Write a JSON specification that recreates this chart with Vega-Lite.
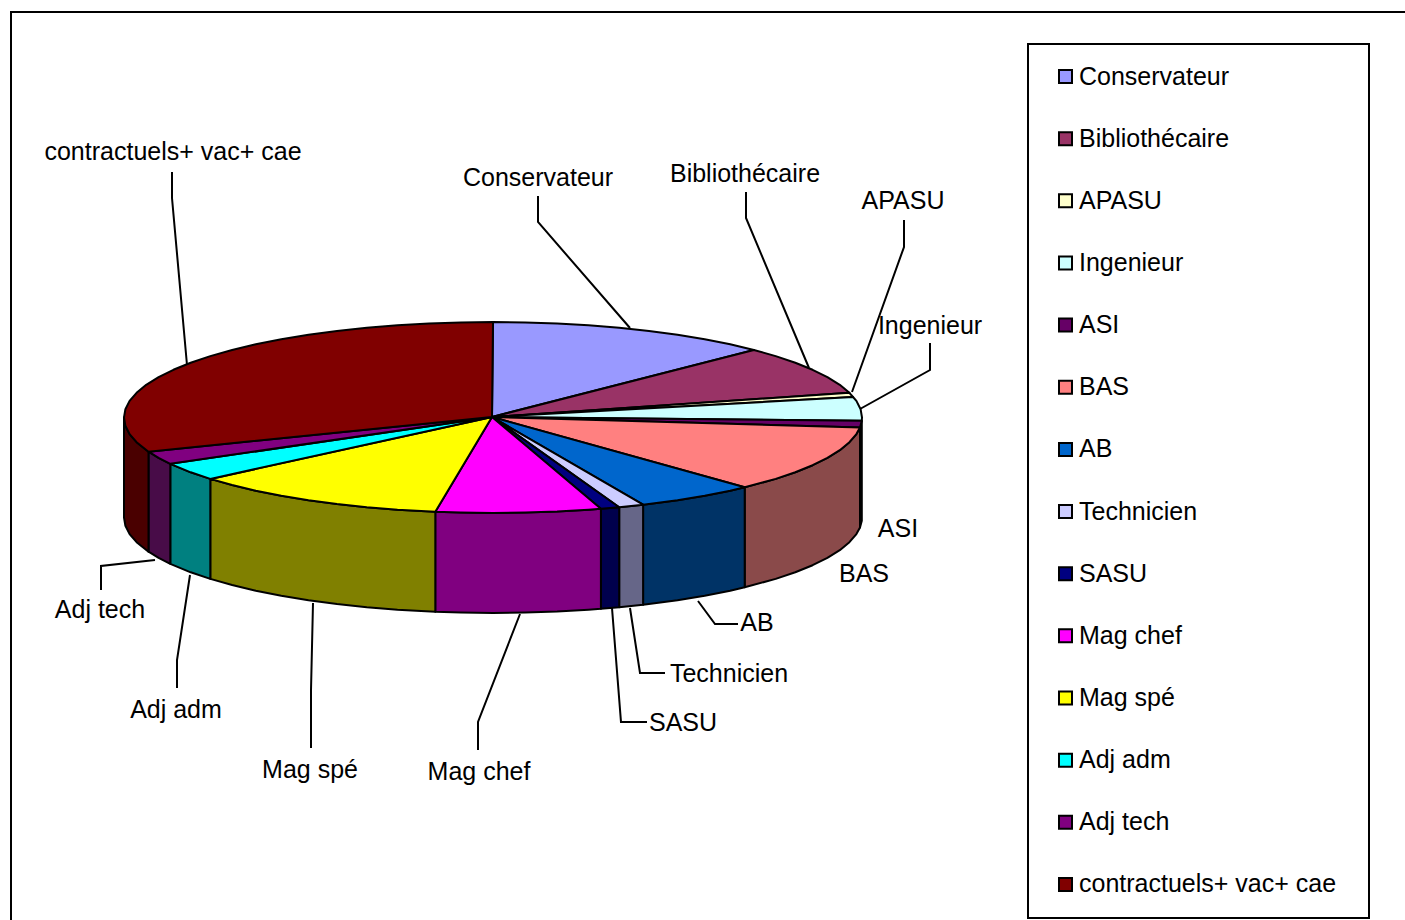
{"$schema":"https://vega.github.io/schema/vega-lite/v6.json","width":1405,"height":920,"padding":0,"autosize":{"type":"none"},"background":"white","config":{"view":{"stroke":null},"font":"Liberation Sans"},
"datasets":{
"frame":[{"x":1028,"x2":1369,"y":44,"y2":918}],
"leaders":[
{"name":"frame","seq":0,"x":11,"y":920},{"name":"frame","seq":1,"x":11,"y":12},{"name":"frame","seq":2,"x":1405,"y":12},
{"name":"contractuels+ vac+ cae","seq":0,"x":172,"y":172},{"name":"contractuels+ vac+ cae","seq":1,"x":172,"y":198},{"name":"contractuels+ vac+ cae","seq":2,"x":187,"y":365},
{"name":"Conservateur","seq":0,"x":538,"y":196},{"name":"Conservateur","seq":1,"x":538,"y":222},{"name":"Conservateur","seq":2,"x":630,"y":328},
{"name":"Bibliothécaire","seq":0,"x":746,"y":192},{"name":"Bibliothécaire","seq":1,"x":746,"y":218},{"name":"Bibliothécaire","seq":2,"x":809,"y":368},
{"name":"APASU","seq":0,"x":904,"y":220},{"name":"APASU","seq":1,"x":904,"y":247},{"name":"APASU","seq":2,"x":852,"y":392},
{"name":"Ingenieur","seq":0,"x":930,"y":343},{"name":"Ingenieur","seq":1,"x":930,"y":370},{"name":"Ingenieur","seq":2,"x":860,"y":409},
{"name":"AB","seq":0,"x":698,"y":601},{"name":"AB","seq":1,"x":715,"y":624},{"name":"AB","seq":2,"x":738,"y":624},
{"name":"Technicien","seq":0,"x":630,"y":608},{"name":"Technicien","seq":1,"x":640,"y":673},{"name":"Technicien","seq":2,"x":665,"y":673},
{"name":"SASU","seq":0,"x":612,"y":608},{"name":"SASU","seq":1,"x":621,"y":722},{"name":"SASU","seq":2,"x":647,"y":722},
{"name":"Mag chef","seq":0,"x":520,"y":614},{"name":"Mag chef","seq":1,"x":478,"y":722},{"name":"Mag chef","seq":2,"x":478,"y":750},
{"name":"Mag spé","seq":0,"x":313,"y":603},{"name":"Mag spé","seq":1,"x":311,"y":690},{"name":"Mag spé","seq":2,"x":311,"y":748},
{"name":"Adj adm","seq":0,"x":190,"y":575},{"name":"Adj adm","seq":1,"x":177,"y":660},{"name":"Adj adm","seq":2,"x":177,"y":688},
{"name":"Adj tech","seq":0,"x":155,"y":560},{"name":"Adj tech","seq":1,"x":101,"y":566},{"name":"Adj tech","seq":2,"x":101,"y":590}
],
"walls":[
{"slice":"ASI","seq":0,"x":861.8,"y":420.8},{"slice":"ASI","seq":1,"x":860,"y":427.5},{"slice":"ASI","seq":2,"x":860,"y":527.5},{"slice":"ASI","seq":3,"x":861.8,"y":520.8},{"slice":"ASI","seq":4,"x":861.8,"y":420.8},
{"slice":"BAS","seq":0,"x":860,"y":427.5},{"slice":"BAS","seq":1,"x":856.4,"y":434.1},{"slice":"BAS","seq":2,"x":849.4,"y":442.2},{"slice":"BAS","seq":3,"x":839.8,"y":450.2},{"slice":"BAS","seq":4,"x":827.4,"y":457.9},{"slice":"BAS","seq":5,"x":812.6,"y":465.2},{"slice":"BAS","seq":6,"x":795.3,"y":472.3},{"slice":"BAS","seq":7,"x":775.7,"y":478.9},{"slice":"BAS","seq":8,"x":744.7,"y":487.3},{"slice":"BAS","seq":9,"x":744.7,"y":587.3},{"slice":"BAS","seq":10,"x":775.7,"y":578.9},{"slice":"BAS","seq":11,"x":795.3,"y":572.3},{"slice":"BAS","seq":12,"x":812.6,"y":565.2},{"slice":"BAS","seq":13,"x":827.4,"y":557.9},{"slice":"BAS","seq":14,"x":839.8,"y":550.2},{"slice":"BAS","seq":15,"x":849.4,"y":542.2},{"slice":"BAS","seq":16,"x":856.4,"y":534.1},{"slice":"BAS","seq":17,"x":860,"y":527.5},{"slice":"BAS","seq":18,"x":860,"y":427.5},
{"slice":"AB","seq":0,"x":744.7,"y":487.3},{"slice":"AB","seq":1,"x":730.2,"y":490.7},{"slice":"AB","seq":2,"x":704.7,"y":495.7},{"slice":"AB","seq":3,"x":677.5,"y":500.2},{"slice":"AB","seq":4,"x":643.1,"y":504.7},{"slice":"AB","seq":5,"x":643.1,"y":604.7},{"slice":"AB","seq":6,"x":677.5,"y":600.2},{"slice":"AB","seq":7,"x":704.7,"y":595.7},{"slice":"AB","seq":8,"x":730.2,"y":590.7},{"slice":"AB","seq":9,"x":744.7,"y":587.3},{"slice":"AB","seq":10,"x":744.7,"y":487.3},
{"slice":"Technicien","seq":0,"x":643.1,"y":504.7},{"slice":"Technicien","seq":1,"x":619.2,"y":507.2},{"slice":"Technicien","seq":2,"x":619.2,"y":607.2},{"slice":"Technicien","seq":3,"x":643.1,"y":604.7},{"slice":"Technicien","seq":4,"x":643.1,"y":504.7},
{"slice":"SASU","seq":0,"x":619.2,"y":507.2},{"slice":"SASU","seq":1,"x":600.9,"y":508.8},{"slice":"SASU","seq":2,"x":600.9,"y":608.8},{"slice":"SASU","seq":3,"x":619.2,"y":607.2},{"slice":"SASU","seq":4,"x":619.2,"y":507.2},
{"slice":"Mag chef","seq":0,"x":600.9,"y":508.8},{"slice":"Mag chef","seq":1,"x":588.5,"y":509.7},{"slice":"Mag chef","seq":2,"x":557.1,"y":511.5},{"slice":"Mag chef","seq":3,"x":525.2,"y":512.6},{"slice":"Mag chef","seq":4,"x":493,"y":513},{"slice":"Mag chef","seq":5,"x":460.8,"y":512.6},{"slice":"Mag chef","seq":6,"x":435.3,"y":511.8},{"slice":"Mag chef","seq":7,"x":435.3,"y":611.8},{"slice":"Mag chef","seq":8,"x":460.8,"y":612.6},{"slice":"Mag chef","seq":9,"x":493,"y":613},{"slice":"Mag chef","seq":10,"x":525.2,"y":612.6},{"slice":"Mag chef","seq":11,"x":557.1,"y":611.5},{"slice":"Mag chef","seq":12,"x":588.5,"y":609.7},{"slice":"Mag chef","seq":13,"x":600.9,"y":608.8},{"slice":"Mag chef","seq":14,"x":600.9,"y":508.8},
{"slice":"Mag spé","seq":0,"x":435.3,"y":511.8},{"slice":"Mag spé","seq":1,"x":397.5,"y":509.7},{"slice":"Mag spé","seq":2,"x":366.8,"y":507.2},{"slice":"Mag spé","seq":3,"x":337,"y":504.1},{"slice":"Mag spé","seq":4,"x":308.5,"y":500.2},{"slice":"Mag spé","seq":5,"x":281.3,"y":495.7},{"slice":"Mag spé","seq":6,"x":255.8,"y":490.7},{"slice":"Mag spé","seq":7,"x":232.1,"y":485},{"slice":"Mag spé","seq":8,"x":210.3,"y":478.9},{"slice":"Mag spé","seq":9,"x":210.3,"y":578.9},{"slice":"Mag spé","seq":10,"x":232.1,"y":585},{"slice":"Mag spé","seq":11,"x":255.8,"y":590.7},{"slice":"Mag spé","seq":12,"x":281.3,"y":595.7},{"slice":"Mag spé","seq":13,"x":308.5,"y":600.2},{"slice":"Mag spé","seq":14,"x":337,"y":604.1},{"slice":"Mag spé","seq":15,"x":366.8,"y":607.2},{"slice":"Mag spé","seq":16,"x":397.5,"y":609.7},{"slice":"Mag spé","seq":17,"x":435.3,"y":611.8},{"slice":"Mag spé","seq":18,"x":435.3,"y":511.8},
{"slice":"Adj adm","seq":0,"x":210.3,"y":478.9},{"slice":"Adj adm","seq":1,"x":190.7,"y":472.3},{"slice":"Adj adm","seq":2,"x":170.3,"y":463.8},{"slice":"Adj adm","seq":3,"x":170.3,"y":563.8},{"slice":"Adj adm","seq":4,"x":190.7,"y":572.3},{"slice":"Adj adm","seq":5,"x":210.3,"y":578.9},{"slice":"Adj adm","seq":6,"x":210.3,"y":478.9},
{"slice":"Adj tech","seq":0,"x":170.3,"y":463.8},{"slice":"Adj tech","seq":1,"x":158.6,"y":457.9},{"slice":"Adj tech","seq":2,"x":148.5,"y":451.7},{"slice":"Adj tech","seq":3,"x":148.5,"y":551.7},{"slice":"Adj tech","seq":4,"x":158.6,"y":557.9},{"slice":"Adj tech","seq":5,"x":170.3,"y":563.8},{"slice":"Adj tech","seq":6,"x":170.3,"y":463.8},
{"slice":"contractuels+ vac+ cae","seq":0,"x":148.5,"y":451.7},{"slice":"contractuels+ vac+ cae","seq":1,"x":136.6,"y":442.2},{"slice":"contractuels+ vac+ cae","seq":2,"x":129.6,"y":434.1},{"slice":"contractuels+ vac+ cae","seq":3,"x":125.4,"y":425.8},{"slice":"contractuels+ vac+ cae","seq":4,"x":124,"y":417.5},{"slice":"contractuels+ vac+ cae","seq":5,"x":124,"y":517.5},{"slice":"contractuels+ vac+ cae","seq":6,"x":125.4,"y":525.8},{"slice":"contractuels+ vac+ cae","seq":7,"x":129.6,"y":534.1},{"slice":"contractuels+ vac+ cae","seq":8,"x":136.6,"y":542.2},{"slice":"contractuels+ vac+ cae","seq":9,"x":148.5,"y":551.7},{"slice":"contractuels+ vac+ cae","seq":10,"x":148.5,"y":451.7}
],
"tops":[
{"slice":"Conservateur","seq":0,"x":492,"y":417},{"slice":"Conservateur","seq":1,"x":493,"y":322},{"slice":"Conservateur","seq":2,"x":525.2,"y":322.4},{"slice":"Conservateur","seq":3,"x":557.1,"y":323.5},{"slice":"Conservateur","seq":4,"x":588.5,"y":325.3},{"slice":"Conservateur","seq":5,"x":619.2,"y":327.8},{"slice":"Conservateur","seq":6,"x":649,"y":330.9},{"slice":"Conservateur","seq":7,"x":677.5,"y":334.8},{"slice":"Conservateur","seq":8,"x":704.7,"y":339.3},{"slice":"Conservateur","seq":9,"x":730.2,"y":344.3},{"slice":"Conservateur","seq":10,"x":753.9,"y":350},{"slice":"Conservateur","seq":11,"x":492,"y":417},
{"slice":"Bibliothécaire","seq":0,"x":492,"y":417},{"slice":"Bibliothécaire","seq":1,"x":753.9,"y":350},{"slice":"Bibliothécaire","seq":2,"x":775.7,"y":356.1},{"slice":"Bibliothécaire","seq":3,"x":795.3,"y":362.7},{"slice":"Bibliothécaire","seq":4,"x":812.6,"y":369.8},{"slice":"Bibliothécaire","seq":5,"x":827.4,"y":377.1},{"slice":"Bibliothécaire","seq":6,"x":839.8,"y":384.8},{"slice":"Bibliothécaire","seq":7,"x":849.4,"y":392.8},{"slice":"Bibliothécaire","seq":8,"x":492,"y":417},
{"slice":"APASU","seq":0,"x":492,"y":417},{"slice":"APASU","seq":1,"x":849.4,"y":392.8},{"slice":"APASU","seq":2,"x":853,"y":397},{"slice":"APASU","seq":3,"x":492,"y":417},
{"slice":"Ingenieur","seq":0,"x":492,"y":417},{"slice":"Ingenieur","seq":1,"x":853,"y":397},{"slice":"Ingenieur","seq":2,"x":856.4,"y":400.9},{"slice":"Ingenieur","seq":3,"x":860.6,"y":409.2},{"slice":"Ingenieur","seq":4,"x":862,"y":417.5},{"slice":"Ingenieur","seq":5,"x":861.8,"y":420.8},{"slice":"Ingenieur","seq":6,"x":492,"y":417},
{"slice":"ASI","seq":0,"x":492,"y":417},{"slice":"ASI","seq":1,"x":861.8,"y":420.8},{"slice":"ASI","seq":2,"x":860,"y":427.5},{"slice":"ASI","seq":3,"x":492,"y":417},
{"slice":"BAS","seq":0,"x":492,"y":417},{"slice":"BAS","seq":1,"x":860,"y":427.5},{"slice":"BAS","seq":2,"x":856.4,"y":434.1},{"slice":"BAS","seq":3,"x":849.4,"y":442.2},{"slice":"BAS","seq":4,"x":839.8,"y":450.2},{"slice":"BAS","seq":5,"x":827.4,"y":457.9},{"slice":"BAS","seq":6,"x":812.6,"y":465.2},{"slice":"BAS","seq":7,"x":795.3,"y":472.3},{"slice":"BAS","seq":8,"x":775.7,"y":478.9},{"slice":"BAS","seq":9,"x":744.7,"y":487.3},{"slice":"BAS","seq":10,"x":492,"y":417},
{"slice":"AB","seq":0,"x":492,"y":417},{"slice":"AB","seq":1,"x":744.7,"y":487.3},{"slice":"AB","seq":2,"x":730.2,"y":490.7},{"slice":"AB","seq":3,"x":704.7,"y":495.7},{"slice":"AB","seq":4,"x":677.5,"y":500.2},{"slice":"AB","seq":5,"x":643.1,"y":504.7},{"slice":"AB","seq":6,"x":492,"y":417},
{"slice":"Technicien","seq":0,"x":492,"y":417},{"slice":"Technicien","seq":1,"x":643.1,"y":504.7},{"slice":"Technicien","seq":2,"x":619.2,"y":507.2},{"slice":"Technicien","seq":3,"x":492,"y":417},
{"slice":"SASU","seq":0,"x":492,"y":417},{"slice":"SASU","seq":1,"x":619.2,"y":507.2},{"slice":"SASU","seq":2,"x":600.9,"y":508.8},{"slice":"SASU","seq":3,"x":492,"y":417},
{"slice":"Mag chef","seq":0,"x":492,"y":417},{"slice":"Mag chef","seq":1,"x":600.9,"y":508.8},{"slice":"Mag chef","seq":2,"x":588.5,"y":509.7},{"slice":"Mag chef","seq":3,"x":557.1,"y":511.5},{"slice":"Mag chef","seq":4,"x":525.2,"y":512.6},{"slice":"Mag chef","seq":5,"x":493,"y":513},{"slice":"Mag chef","seq":6,"x":460.8,"y":512.6},{"slice":"Mag chef","seq":7,"x":435.3,"y":511.8},{"slice":"Mag chef","seq":8,"x":492,"y":417},
{"slice":"Mag spé","seq":0,"x":492,"y":417},{"slice":"Mag spé","seq":1,"x":435.3,"y":511.8},{"slice":"Mag spé","seq":2,"x":397.5,"y":509.7},{"slice":"Mag spé","seq":3,"x":366.8,"y":507.2},{"slice":"Mag spé","seq":4,"x":337,"y":504.1},{"slice":"Mag spé","seq":5,"x":308.5,"y":500.2},{"slice":"Mag spé","seq":6,"x":281.3,"y":495.7},{"slice":"Mag spé","seq":7,"x":255.8,"y":490.7},{"slice":"Mag spé","seq":8,"x":232.1,"y":485},{"slice":"Mag spé","seq":9,"x":210.3,"y":478.9},{"slice":"Mag spé","seq":10,"x":492,"y":417},
{"slice":"Adj adm","seq":0,"x":492,"y":417},{"slice":"Adj adm","seq":1,"x":210.3,"y":478.9},{"slice":"Adj adm","seq":2,"x":190.7,"y":472.3},{"slice":"Adj adm","seq":3,"x":170.3,"y":463.8},{"slice":"Adj adm","seq":4,"x":492,"y":417},
{"slice":"Adj tech","seq":0,"x":492,"y":417},{"slice":"Adj tech","seq":1,"x":170.3,"y":463.8},{"slice":"Adj tech","seq":2,"x":158.6,"y":457.9},{"slice":"Adj tech","seq":3,"x":148.5,"y":451.7},{"slice":"Adj tech","seq":4,"x":492,"y":417},
{"slice":"contractuels+ vac+ cae","seq":0,"x":492,"y":417},{"slice":"contractuels+ vac+ cae","seq":1,"x":148.5,"y":451.7},{"slice":"contractuels+ vac+ cae","seq":2,"x":136.6,"y":442.2},{"slice":"contractuels+ vac+ cae","seq":3,"x":129.6,"y":434.1},{"slice":"contractuels+ vac+ cae","seq":4,"x":125.4,"y":425.8},{"slice":"contractuels+ vac+ cae","seq":5,"x":124,"y":417.5},{"slice":"contractuels+ vac+ cae","seq":6,"x":125.4,"y":409.2},{"slice":"contractuels+ vac+ cae","seq":7,"x":129.6,"y":400.9},{"slice":"contractuels+ vac+ cae","seq":8,"x":136.6,"y":392.8},{"slice":"contractuels+ vac+ cae","seq":9,"x":146.2,"y":384.8},{"slice":"contractuels+ vac+ cae","seq":10,"x":158.6,"y":377.1},{"slice":"contractuels+ vac+ cae","seq":11,"x":173.4,"y":369.8},{"slice":"contractuels+ vac+ cae","seq":12,"x":190.7,"y":362.7},{"slice":"contractuels+ vac+ cae","seq":13,"x":210.3,"y":356.1},{"slice":"contractuels+ vac+ cae","seq":14,"x":232.1,"y":350},{"slice":"contractuels+ vac+ cae","seq":15,"x":255.8,"y":344.3},{"slice":"contractuels+ vac+ cae","seq":16,"x":281.3,"y":339.3},{"slice":"contractuels+ vac+ cae","seq":17,"x":308.5,"y":334.8},{"slice":"contractuels+ vac+ cae","seq":18,"x":337,"y":330.9},{"slice":"contractuels+ vac+ cae","seq":19,"x":366.8,"y":327.8},{"slice":"contractuels+ vac+ cae","seq":20,"x":397.5,"y":325.3},{"slice":"contractuels+ vac+ cae","seq":21,"x":428.9,"y":323.5},{"slice":"contractuels+ vac+ cae","seq":22,"x":460.8,"y":322.4},{"slice":"contractuels+ vac+ cae","seq":23,"x":493,"y":322},{"slice":"contractuels+ vac+ cae","seq":24,"x":492,"y":417}
],
"labels":[
{"label":"contractuels+ vac+ cae","x":173,"y":152},{"label":"Conservateur","x":538,"y":178},{"label":"Bibliothécaire","x":745,"y":174},{"label":"APASU","x":903,"y":201},{"label":"Ingenieur","x":930,"y":326},{"label":"ASI","x":898,"y":529},{"label":"BAS","x":864,"y":574},{"label":"AB","x":757,"y":623},{"label":"Technicien","x":729,"y":674},{"label":"SASU","x":683,"y":723},{"label":"Mag chef","x":479,"y":772},{"label":"Mag spé","x":310,"y":770},{"label":"Adj adm","x":176,"y":710},{"label":"Adj tech","x":100,"y":610}
]},
"resolve":{"scale":{"fill":"independent"}},
"layer":[
{"data":{"name":"frame"},"mark":{"type":"rect","fill":"white","stroke":"black","strokeWidth":2},"encoding":{"x":{"field":"x","type":"quantitative","scale":{"domain":[0,1405],"nice":false,"zero":false},"axis":null},"x2":{"field":"x2"},"y":{"field":"y","type":"quantitative","scale":{"domain":[0,920],"reverse":true,"nice":false,"zero":false},"axis":null},"y2":{"field":"y2"}}},
{"data":{"name":"leaders"},"mark":{"type":"line","stroke":"black","strokeWidth":2,"clip":false},"encoding":{"x":{"field":"x","type":"quantitative","scale":{"domain":[0,1405],"nice":false,"zero":false},"axis":null},"y":{"field":"y","type":"quantitative","scale":{"domain":[0,920],"reverse":true,"nice":false,"zero":false},"axis":null},"detail":{"field":"name"},"order":{"field":"seq"}}},
{"data":{"name":"walls"},"mark":{"type":"line","stroke":"black","strokeWidth":2,"strokeJoin":"round"},"encoding":{"x":{"field":"x","type":"quantitative","scale":{"domain":[0,1405],"nice":false,"zero":false},"axis":null},"y":{"field":"y","type":"quantitative","scale":{"domain":[0,920],"reverse":true,"nice":false,"zero":false},"axis":null},"order":{"field":"seq"},"fill":{"field":"slice","type":"nominal","legend":null,"scale":{"domain":["ASI","BAS","AB","Technicien","SASU","Mag chef","Mag spé","Adj adm","Adj tech","contractuels+ vac+ cae"],"range":["#330033","#8a4a4a","#003366","#666688","#00004d","#800080","#808000","#008080","#480c48","#4a0000"]}}}},
{"data":{"name":"tops"},"mark":{"type":"line","stroke":"black","strokeWidth":2,"strokeJoin":"round"},"encoding":{"x":{"field":"x","type":"quantitative","scale":{"domain":[0,1405],"nice":false,"zero":false},"axis":null},"y":{"field":"y","type":"quantitative","scale":{"domain":[0,920],"reverse":true,"nice":false,"zero":false},"axis":null},"order":{"field":"seq"},"fill":{"field":"slice","type":"nominal","scale":{"domain":["Conservateur","Bibliothécaire","APASU","Ingenieur","ASI","BAS","AB","Technicien","SASU","Mag chef","Mag spé","Adj adm","Adj tech","contractuels+ vac+ cae"],"range":["#9999FF","#993366","#FFFFCC","#CCFFFF","#660066","#FF8080","#0066CC","#CCCCFF","#000080","#FF00FF","#FFFF00","#00FFFF","#800080","#800000"]},"legend":{"title":null,"orient":"none","legendX":1053,"legendY":64,"padding":0,"symbolType":"square","symbolSize":169,"symbolStrokeColor":"black","symbolStrokeWidth":2,"labelFont":"Liberation Sans","labelFontSize":25,"labelColor":"black","labelLimit":400,"labelOffset":1,"rowPadding":36.15,"columns":1}}}},
{"data":{"name":"labels"},"mark":{"type":"text","font":"Liberation Sans","fontSize":25,"color":"black","baseline":"middle","align":"center"},"encoding":{"x":{"field":"x","type":"quantitative","scale":{"domain":[0,1405],"nice":false,"zero":false},"axis":null},"y":{"field":"y","type":"quantitative","scale":{"domain":[0,920],"reverse":true,"nice":false,"zero":false},"axis":null},"text":{"field":"label"}}}
]}
